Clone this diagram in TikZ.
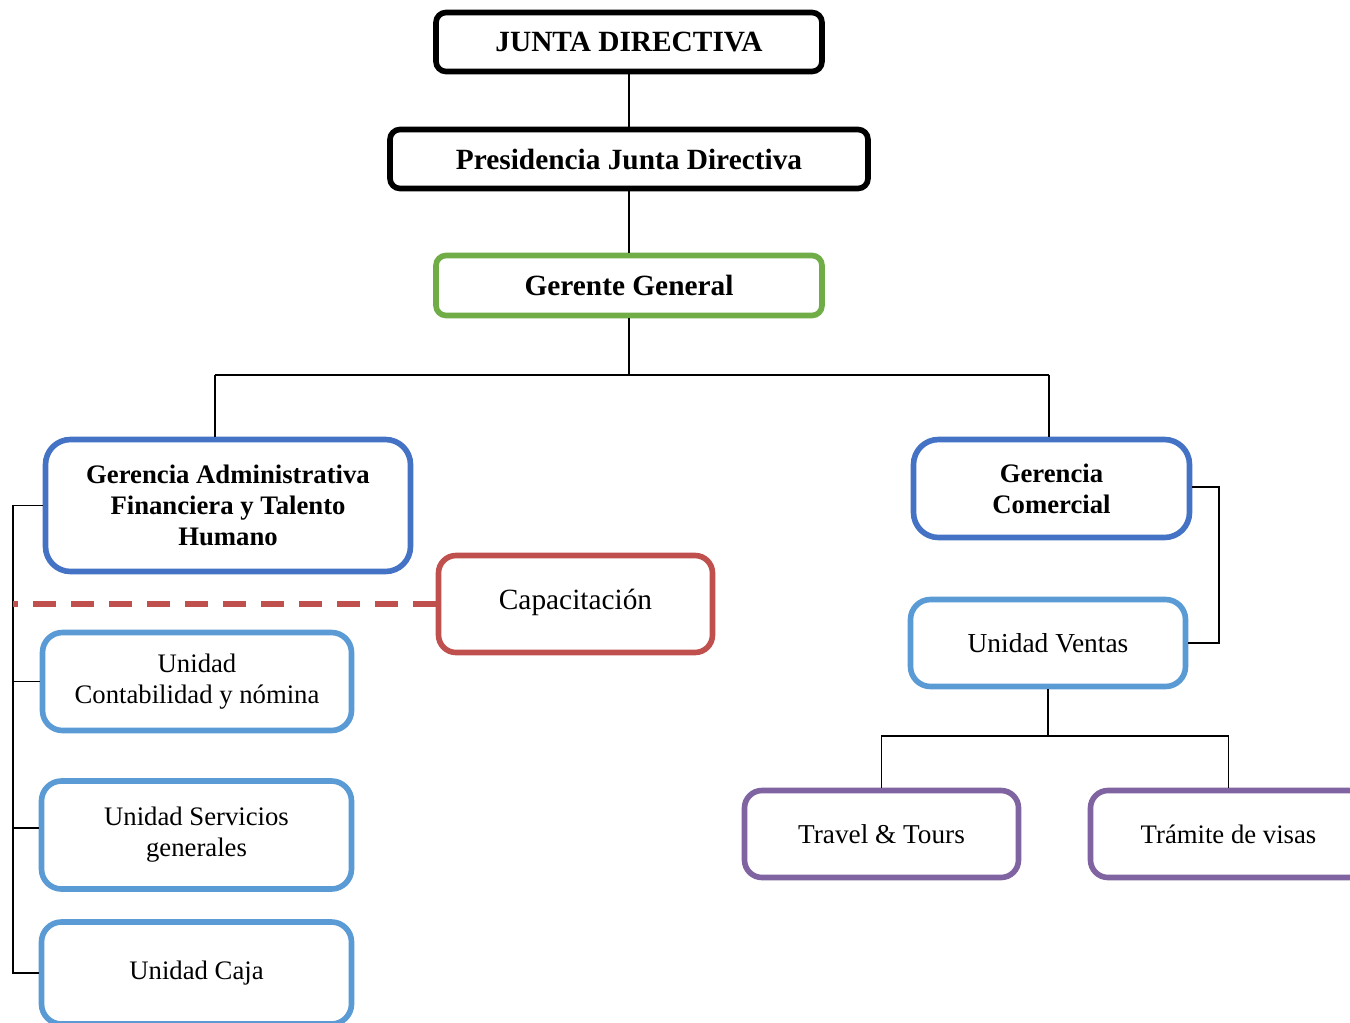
\documentclass[tikz,border=0pt]{standalone}
\usepackage{fontspec}
\usepackage{xcolor}
\usepackage{tikz}
\setmainfont{Liberation Serif}
\usetikzlibrary{positioning}

\definecolor{boardgreen}{HTML}{70AD47}
\definecolor{mgrblue}{HTML}{4472C4}
\definecolor{unitblue}{HTML}{5B9BD5}
\definecolor{trainred}{HTML}{C0504D}
\definecolor{tourpurple}{HTML}{8064A2}

\tikzset{
  orgbox/.style={draw, rectangle, line width=3.2pt, fill=white, align=center,
    font=\fontsize{15.2}{17.6}\selectfont},
  boardbox/.style={orgbox, draw=black, rounded corners=0.2cm, font=\fontsize{16.7}{17.6}\selectfont\bfseries},
  gmbox/.style={orgbox, draw=boardgreen, rounded corners=0.2cm, font=\fontsize{16.7}{17.6}\selectfont\bfseries},
  mgrbox/.style={orgbox, draw=mgrblue, rounded corners=0.5cm, font=\fontsize{15.2}{17.6}\selectfont\bfseries},
  unitbox/.style={orgbox, draw=unitblue, rounded corners=0.4cm},
  trainbox/.style={orgbox, draw=trainred, rounded corners=0.35cm, font=\fontsize{16.7}{17.6}\selectfont},
  tourbox/.style={orgbox, draw=tourpurple, rounded corners=0.35cm},
  link/.style={draw=black, line width=1pt},
  dashlink/.style={draw=trainred, line width=3.4pt, dash pattern=on 0.46cm off 0.3cm}
}

\begin{document}
\begin{tikzpicture}
    \clip (0,0) rectangle (27,-20.44);
    \fill[white] (0,0) rectangle (27,-20.44);

    % top of the chart
    \node[boardbox, minimum width=7.72cm, minimum height=1.18cm] (junta) at (12.58,-0.84) {JUNTA DIRECTIVA};
    \node[boardbox, minimum width=9.56cm, minimum height=1.18cm] (pres) at (12.58,-3.18) {Presidencia Junta Directiva};
    \node[gmbox, minimum width=7.72cm, minimum height=1.20cm] (gerente) at (12.58,-5.71) {Gerente General};

    % managements
    \node[mgrbox, minimum width=7.30cm, minimum height=2.64cm] (gadm) at (4.56,-10.11) {Gerencia Administrativa\\Financiera y Talento\\Humano};
    \node[mgrbox, minimum width=5.52cm, minimum height=1.96cm] (gcom) at (21.03,-9.77) {Gerencia\\Comercial};
    \node[trainbox, minimum width=5.48cm, minimum height=1.94cm, text depth=0.2cm] (capac) at (11.51,-12.08) {Capacitación};

    % units
    \node[unitbox, minimum width=6.18cm, minimum height=1.96cm] (ucont) at (3.94,-13.63) {Unidad\\Contabilidad y nómina};
    \node[unitbox, minimum width=6.20cm, minimum height=2.16cm] (userv) at (3.93,-16.70) {Unidad Servicios\\generales};
    \node[unitbox, minimum width=6.20cm, minimum height=2.04cm] (ucaja) at (3.93,-19.46) {Unidad Caja};
    \node[unitbox, minimum width=5.50cm, minimum height=1.74cm, font=\fontsize{15.6}{17.6}\selectfont] (uventas) at (20.96,-12.86) {Unidad Ventas};
    \node[tourbox, minimum width=5.48cm, minimum height=1.74cm, font=\fontsize{15.5}{17.6}\selectfont] (travel) at (17.63,-16.68) {Travel \& Tours};
    \node[tourbox, minimum width=5.52cm, minimum height=1.74cm] (tramite) at (24.57,-16.68) {Trámite de visas};

    \coordinate (hubL) at (4.30,-7.50);
    \coordinate (hubR) at (20.98,-7.50);
    \coordinate (spine) at (0.26,-10.10);
    \coordinate (brace) at (24.38,-9.74);
    \coordinate (vsplit) at (21.00,-14.72);

    \draw[link] (junta.south) -- (pres.north);
    \draw[link] (pres.south) -- (gerente.north);
    \draw[link] (gerente.south) -- (gerente.south |- hubL);
    \draw[link] (hubL) -- (hubR);
    \draw[link] (hubL) -- (hubL |- gadm.north);
    \draw[link] (hubR) -- (hubR |- gcom.north);
    \draw[link] (gadm.west) -- (gadm.west -| spine) |- (ucaja.west); % left bracket
    \draw[link] (ucont.west) -- (ucont.west -| spine);
    \draw[link] ([yshift=0.14cm]userv.west) -- ([yshift=0.14cm]userv.west -| spine);
    \draw[dashlink] (capac.west) -- (capac.west -| spine); % dashed support line
    \draw[link] (gcom.east |- brace) -- (brace) |- (uventas.east); % right bracket
    \draw[link] (uventas.south) -- (uventas.south |- vsplit);
    \draw[link] (travel.north) -- (travel.north |- vsplit) -| (tramite.north);
\end{tikzpicture}
\end{document}
